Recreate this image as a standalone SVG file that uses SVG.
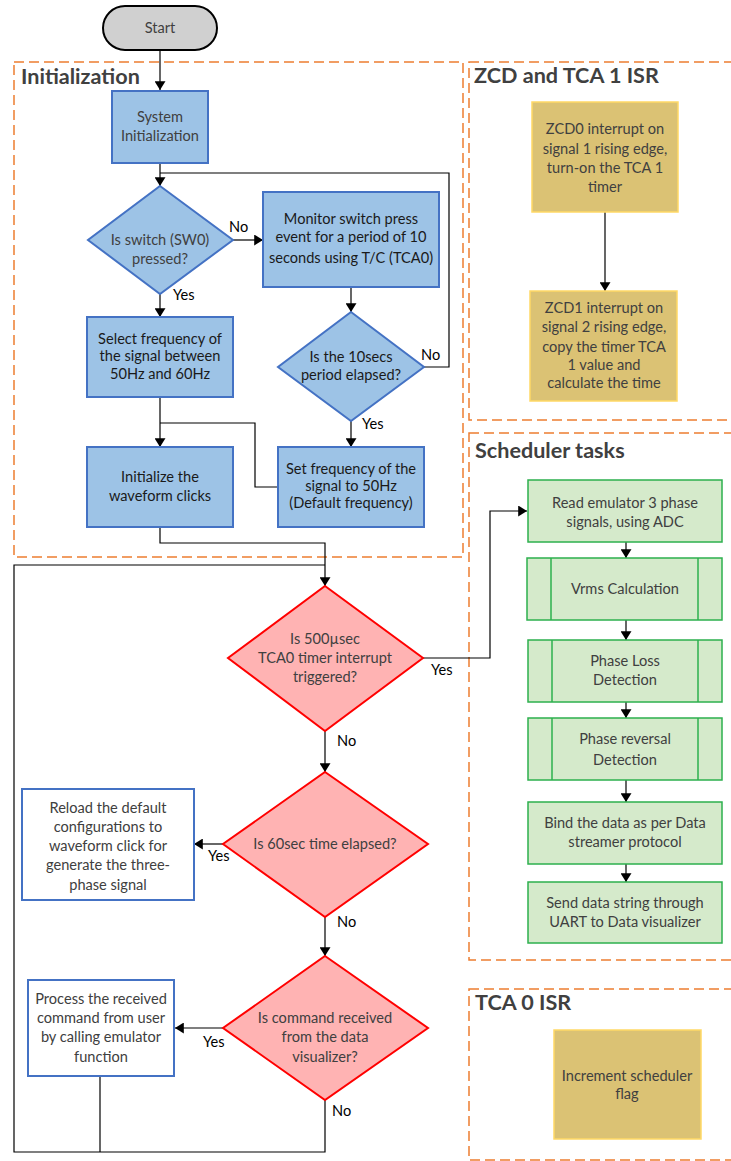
<svg xmlns="http://www.w3.org/2000/svg" width="731" height="1161" viewBox="0 0 731 1161">
  <defs>
    <marker id="arrow" viewBox="0 0 8 10" refX="8" refY="5" markerWidth="9" markerHeight="11" markerUnits="userSpaceOnUse" orient="auto">
      <path d="M0,0 L8,5 L0,10 z" fill="#000"/>
    </marker>
    <style>
      text { font-family: Lato, "Open Sans", "Liberation Sans", sans-serif; font-size: 14.6px; text-anchor: middle; }
      .gray { fill: #404040; }
      .dark { fill: #1a1a1a; }
      .lbl { fill: #000; text-anchor: start; }
      .title { font-size: 21.6px; font-weight: bold; fill: #404040; text-anchor: start; }
      .group { fill: none; stroke: #ED7D31; stroke-width: 1.5; stroke-dasharray: 10 5; }
      .blue { fill: #9DC3E6; stroke: #4472C4; stroke-width: 2; }
      .white { fill: #fff; stroke: #4472C4; stroke-width: 2; }
      .red { fill: #FFB3B3; stroke: #FF0000; stroke-width: 2; }
      .green { fill: #D5EACB; stroke: #2DB04E; stroke-width: 1.5; }
      .gold { fill: #DBC274; stroke: #FFD966; stroke-width: 1.5; }
      .conn { fill: none; stroke: #000; stroke-width: 1.2; }
    </style>
  </defs>

  <!-- section frames -->
  <g id="frames">
    <rect class="group" x="14" y="62" width="449" height="495"/>
    <text class="title" x="21" y="84">Initialization</text>
    <rect class="group" x="469" y="62" width="280" height="358"/>
    <text class="title" x="474" y="83">ZCD and TCA 1 ISR</text>
    <rect class="group" x="469" y="433" width="280" height="527"/>
    <text class="title" x="475" y="458">Scheduler tasks</text>
    <rect class="group" x="469" y="989" width="280" height="171"/>
    <text class="title" x="475" y="1010">TCA 0 ISR</text>
  </g>

  <!-- connectors -->
  <g id="connectors">
    <line class="conn" x1="160" y1="50" x2="160" y2="90" marker-end="url(#arrow)"/>
    <line class="conn" x1="160" y1="163" x2="160" y2="186" marker-end="url(#arrow)"/>
    <polyline class="conn" points="424,367 449,367 449,173 160,173"/>
    <line class="conn" x1="233" y1="240" x2="263" y2="240" marker-end="url(#arrow)"/>
    <line class="conn" x1="160" y1="294" x2="160" y2="317" marker-end="url(#arrow)"/>
    <line class="conn" x1="351" y1="287" x2="351" y2="312" marker-end="url(#arrow)"/>
    <line class="conn" x1="351" y1="421" x2="351" y2="447" marker-end="url(#arrow)"/>
    <line class="conn" x1="160" y1="397" x2="160" y2="447" marker-end="url(#arrow)"/>
    <polyline class="conn" points="278,487 255,487 255,423 160,423"/>
    <polyline class="conn" points="160,527 160,543 325,543 325,586" marker-end="url(#arrow)"/>
    <polyline class="conn" points="325,1100 325,1152 14,1152 14,565 325,565"/>
    <line class="conn" x1="100" y1="1076" x2="100" y2="1152"/>
    <line class="conn" x1="325" y1="731" x2="325" y2="772" marker-end="url(#arrow)"/>
    <line class="conn" x1="325" y1="917" x2="325" y2="956" marker-end="url(#arrow)"/>
    <line class="conn" x1="223" y1="844" x2="194" y2="844" marker-end="url(#arrow)"/>
    <line class="conn" x1="223" y1="1028" x2="175" y2="1028" marker-end="url(#arrow)"/>
    <polyline class="conn" points="423,658 490,658 490,511 527,511" marker-end="url(#arrow)"/>
    <line class="conn" x1="605" y1="212" x2="605" y2="291" marker-end="url(#arrow)"/>
    <line class="conn" x1="626" y1="542" x2="626" y2="558" marker-end="url(#arrow)"/>
    <line class="conn" x1="626" y1="620" x2="626" y2="640" marker-end="url(#arrow)"/>
    <line class="conn" x1="626" y1="702" x2="626" y2="718" marker-end="url(#arrow)"/>
    <line class="conn" x1="626" y1="780" x2="626" y2="802" marker-end="url(#arrow)"/>
    <line class="conn" x1="626" y1="864" x2="626" y2="882" marker-end="url(#arrow)"/>
    <!-- branch labels -->
    <text class="lbl" x="229" y="232">No</text>
    <text class="lbl" x="173" y="300">Yes</text>
    <text class="lbl" x="421" y="360">No</text>
    <text class="lbl" x="362" y="429">Yes</text>
    <text class="lbl" x="431" y="675">Yes</text>
    <text class="lbl" x="337" y="746">No</text>
    <text class="lbl" x="208" y="861">Yes</text>
    <text class="lbl" x="337" y="927">No</text>
    <text class="lbl" x="203" y="1047">Yes</text>
    <text class="lbl" x="332" y="1116">No</text>
  </g>

  <g id="start">
    <rect x="103" y="6" width="114" height="44" rx="22" fill="#D0D0D0" stroke="#000" stroke-width="2"/>
    <text class="gray" x="160" y="33">Start</text>
  </g>

  <g id="system-init">
    <rect class="blue" x="112" y="91" width="96" height="72"/>
    <text class="gray" x="160" y="122">System</text>
    <text class="gray" x="160" y="141">Initialization</text>
  </g>

  <g id="switch-pressed">
    <polygon class="blue" points="160,186 233,240 160,294 88,240"/>
    <text class="gray" x="160" y="245">Is switch (SW0)</text>
    <text class="gray" x="160" y="264">pressed?</text>
  </g>

  <g id="monitor-switch">
    <rect class="blue" x="263" y="192" width="176" height="95"/>
    <text class="dark" x="351" y="224">Monitor switch press</text>
    <text class="dark" x="351" y="242">event for a period of 10</text>
    <text class="dark" x="351" y="263">seconds using T/C (TCA0)</text>
  </g>

  <g id="select-frequency">
    <rect class="blue" x="87" y="317" width="146" height="80"/>
    <text class="dark" x="160" y="344">Select frequency of</text>
    <text class="dark" x="160" y="361">the signal between</text>
    <text class="dark" x="160" y="379">50Hz and 60Hz</text>
  </g>

  <g id="period-elapsed">
    <polygon class="blue" points="351,312 424,367 351,421 278,367"/>
    <text class="dark" x="351" y="362">Is the 10secs</text>
    <text class="dark" x="351" y="380">period elapsed?</text>
  </g>

  <g id="init-waveform">
    <rect class="blue" x="87" y="447" width="146" height="80"/>
    <text class="dark" x="160" y="482">Initialize the</text>
    <text class="dark" x="160" y="501">waveform clicks</text>
  </g>

  <g id="set-frequency">
    <rect class="blue" x="278" y="447" width="146" height="80"/>
    <text class="dark" x="351" y="474">Set frequency of the</text>
    <text class="dark" x="351" y="491">signal to 50Hz</text>
    <text class="dark" x="351" y="508">(Default frequency)</text>
  </g>

  <g id="tca0-interrupt">
    <polygon class="red" points="325,586 423,658 325,731 228,658"/>
    <text class="gray" x="325" y="644">Is 500µsec</text>
    <text class="gray" x="325" y="663">TCA0 timer interrupt</text>
    <text class="gray" x="325" y="682">triggered?</text>
  </g>

  <g id="sixty-sec">
    <polygon class="red" points="325,772 428,844 325,917 223,844"/>
    <text class="gray" x="325" y="849">Is 60sec time elapsed?</text>
  </g>

  <g id="reload-defaults">
    <rect class="white" x="22" y="789" width="172" height="111"/>
    <text class="gray" x="108" y="813">Reload the default</text>
    <text class="gray" x="108" y="832">configurations to</text>
    <text class="gray" x="108" y="851">waveform click for</text>
    <text class="gray" x="108" y="870">generate the three-</text>
    <text class="gray" x="108" y="890">phase signal</text>
  </g>

  <g id="command-received">
    <polygon class="red" points="325,956 428,1028 325,1100 223,1028"/>
    <text class="gray" x="325" y="1023">Is command received</text>
    <text class="gray" x="325" y="1042">from the data</text>
    <text class="gray" x="325" y="1062">visualizer?</text>
  </g>

  <g id="process-command">
    <rect class="white" x="28" y="980" width="146" height="96"/>
    <text class="gray" x="101" y="1004">Process the received</text>
    <text class="gray" x="101" y="1023">command from user</text>
    <text class="gray" x="101" y="1042">by calling emulator</text>
    <text class="gray" x="101" y="1062">function</text>
  </g>

  <g id="zcd0">
    <rect class="gold" x="532" y="102" width="146" height="110"/>
    <text class="gray" x="605" y="134">ZCD0 interrupt on</text>
    <text class="gray" x="605" y="154">signal 1 rising edge,</text>
    <text class="gray" x="605" y="173">turn-on the TCA 1</text>
    <text class="gray" x="605" y="192">timer</text>
  </g>

  <g id="zcd1">
    <rect class="gold" x="530" y="291" width="147" height="110"/>
    <text class="gray" x="604" y="313">ZCD1 interrupt on</text>
    <text class="gray" x="604" y="332">signal 2 rising edge,</text>
    <text class="gray" x="604" y="352">copy the timer TCA</text>
    <text class="gray" x="604" y="370">1 value and</text>
    <text class="gray" x="604" y="388">calculate the time</text>
  </g>

  <g id="read-adc">
    <rect class="green" x="528" y="480" width="194" height="62"/>
    <text class="gray" x="625" y="508">Read emulator 3 phase</text>
    <text class="gray" x="625" y="527">signals, using ADC</text>
  </g>

  <g id="vrms">
    <rect class="green" x="527" y="558" width="195" height="62"/>
    <line class="green" x1="551" y1="558" x2="551" y2="620"/>
    <line class="green" x1="698" y1="558" x2="698" y2="620"/>
    <text class="gray" x="625" y="594">Vrms Calculation</text>
  </g>

  <g id="phase-loss">
    <rect class="green" x="528" y="640" width="194" height="62"/>
    <line class="green" x1="552" y1="640" x2="552" y2="702"/>
    <line class="green" x1="698" y1="640" x2="698" y2="702"/>
    <text class="gray" x="625" y="666">Phase Loss</text>
    <text class="gray" x="625" y="685">Detection</text>
  </g>

  <g id="phase-reversal">
    <rect class="green" x="528" y="718" width="194" height="62"/>
    <line class="green" x1="552" y1="718" x2="552" y2="780"/>
    <line class="green" x1="698" y1="718" x2="698" y2="780"/>
    <text class="gray" x="625" y="744">Phase reversal</text>
    <text class="gray" x="625" y="765">Detection</text>
  </g>

  <g id="bind-data">
    <rect class="green" x="528" y="802" width="194" height="62"/>
    <text class="gray" x="625" y="828">Bind the data as per Data</text>
    <text class="gray" x="625" y="847">streamer protocol</text>
  </g>

  <g id="send-uart">
    <rect class="green" x="528" y="882" width="194" height="61"/>
    <text class="gray" x="625" y="908">Send data string through</text>
    <text class="gray" x="625" y="927">UART to Data visualizer</text>
  </g>

  <g id="tca0-isr">
    <rect class="gold" x="554" y="1030" width="147" height="109"/>
    <text class="gray" x="627" y="1081">Increment scheduler</text>
    <text class="gray" x="627" y="1099">flag</text>
  </g>
</svg>
